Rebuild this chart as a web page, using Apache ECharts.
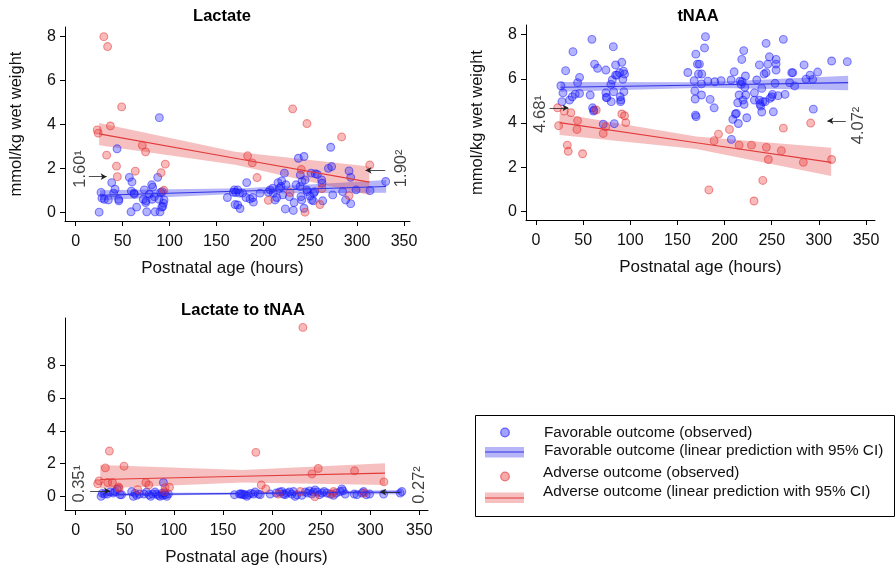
<!DOCTYPE html>
<html>
<head>
<meta charset="utf-8">
<script src="https://cdn.jsdelivr.net/npm/echarts@6/dist/echarts.min.js"></script>
<style>html,body{margin:0;padding:0;background:#fff}#c{width:896px;height:567px}</style>
</head>
<body>
<div id="c"></div>
<script>
// ---------------- DATA ----------------
const xTicks = [0, 50, 100, 150, 200, 250, 300, 350];
const yTicks = [0, 2, 4, 6, 8];
const panelTitles = ['Lactate', 'tNAA', 'Lactate to tNAA'];
const xAxisTitle = 'Postnatal age (hours)';
const yAxisTitle = 'mmol/kg wet weight';
const legendLabels = [
  'Favorable outcome (observed)',
  'Favorable outcome (linear prediction with 95% CI)',
  'Adverse outcome (observed)',
  'Adverse outcome (linear prediction with 95% CI)'
];

// Lactate: [postnatal age (h), mmol/kg]
const lactateFavorable = [
  [25,0.0],[27,0.9],[28,0.64],[30.6,0.59],[34.8,0.56],[38.4,1.35],[40.5,0.87],[41.9,1.05],[44.1,2.89],[45.8,0.59],
  [46,0.52],[57.2,1.59],[59,0.02],[60,1.38],[59.3,0.96],[62.2,0.87],[62.5,0.82],[65,0.23],[72.1,0.59],[73.2,1.02],
  [74.6,0.44],[75.7,0.02],[75,0.52],[78.5,0.82],[81,1.25],[82.1,1.14],[81.4,0.59],[83.9,0.71],[84.6,0.02],[87.4,1.59],
  [88.8,0.59],[89.9,0.02],[89.2,4.31],[90.6,0.9],[91.7,0.23],[92.8,0.26],[93.5,0.41],[94.2,0.56],[92.4,0.94],
  [161.7,0.67],[168.1,0.91],[169.1,1.02],[169.9,0.35],[170.6,0.9],[172.7,1.02],[172.7,0.33],[174.5,0.87],[175.2,0.17],
  [178,0.87],[181.6,0.67],[182.3,1.35],[185.9,0.61],[188.7,0.67],[189.4,0.46],
  [196.5,0.87],[205.4,0.91],[207.2,1.02],[210,1.09],[210.7,0.87],[212.5,0.56],[214.3,0.67],[215.7,1.35],[217.1,1.09],
  [218.9,1.17],[219.6,1.43],[220.7,0.79],[222.5,1.78],[223.5,0.15],[224.2,1.25],[227.8,0.71],[232,0.08],[232.8,0.44],
  [234.9,1.25],[237.4,2.46],[243.4,2.54],[239.2,1.17],[239.5,1.7],[240.2,0.71],[241.3,1.4],[241,0.56],[243.4,0.18],
  [244.5,1.47],[246.3,1.02],[247,0.94],[249.8,0.74],[250.9,1.78],[251.6,0.56],[253.4,0.52],[253.7,0.87],[254.8,0.94],
  [255.5,1.75],[257.6,1.72],[262.3,1.47],[262.6,1.32],[263.3,0.52],[269.4,2.0],[271.9,2.96],[272.9,2.08],[274,0.79],
  [284.6,0.94],[287.8,0.56],[291.4,1.88],[293.2,1.59],[293.2,0.39],[298.9,1.02],[313.8,0.99],[330.5,1.4]
];
const lactateAdverse = [
  [30,8.0],[34,7.55],[49,4.8],[37,3.93],[23,3.75],[24,3.6],[71,3.05],[74.5,2.75],[33,2.6],[43.5,2.1],
  [63.5,1.87],[44.4,1.62],[95.5,2.19],[91,1.8],[94,1.0],[183.3,2.57],[188.3,2.25],[193.3,1.58],[231.3,4.71],
  [246.5,4.04],[283.5,3.43],[313.5,2.15],[240.5,1.95],[205.4,0.54],[228.5,0.9],[244.5,0.0],[260.4,0.35],
  [262.5,1.08],[291.4,0.76]
];
// linear predictions: x, fit, lower, upper
const lactateFavFitX = [26, 180, 331];
const lactateFavFit  = [0.77, 0.97, 1.17];
const lactateFavLo   = [0.55, 0.85, 0.89];
const lactateFavHi   = [1.0, 1.09, 1.47];
const lactateAdvFitX = [25, 170, 313];
const lactateAdvFit  = [3.57, 2.46, 1.37];
const lactateAdvLo   = [3.05, 2.16, 0.79];
const lactateAdvHi   = [4.07, 2.76, 2.08];

// tNAA
const tnaaFavorable = [
  [26.4,5.69],[27.5,4.97],[28.6,5.37],[31.4,6.37],[35.6,5.04],[38.4,5.19],[39.2,7.23],[41.6,5.31],[44.1,5.83],[46.2,6.07],
  [46.2,5.34],[57.5,5.27],[59.3,7.79],[60,4.69],[61,4.54],[62.1,6.67],[65.3,6.48],[61.5,4.59],[74.1,6.4],[74.1,5.37],
  [74.5,5.16],[75.2,5.15],[71.3,3.95],[79.4,5.75],[79.8,4.97],[80.9,5.95],[82,7.46],[82.3,5.42],[83,3.97],[84.4,6.63],
  [84.4,6.17],[85.8,6.17],[88.6,6.28],[89.3,5.19],[90,5.04],[89.7,4.97],[91,6.75],[92.1,5.98],[92.8,6.35],[93.9,6.22],[93.2,5.42],
  [161,6.29],[167.7,5.92],[168.4,5.46],[168.8,5.09],[169.5,7.12],[169.1,4.36],[169.8,4.29],[171.2,6.67],[173.3,6.67],
  [172.3,6.22],[175.8,6.22],[175.5,5.77],[175.5,5.27],[178.7,7.4],[179.7,7.91],[182.2,5.9],[184.7,5.07],[188.9,4.69],[189.6,5.87],
  [196.3,5.92],[207.2,3.26],[206.9,5.95],[208.7,4.17],[210.1,6.32],[211.5,4.41],[212.5,4.44],[213.9,4.92],[214.6,3.98],
  [215.4,5.27],[216.4,5.9],[217.5,5.75],[218.2,6.88],[218.6,5.87],[219.6,5.04],[220.3,7.28],[220.7,4.85],[221.4,5.62],
  [222.1,6.13],[222.4,5.27],[223.5,4.24],[231.6,5.04],[231.6,5.37],[234.1,5.95],[236.9,6.63],[236.9,5.04],[237.6,4.86],
  [238.3,4.77],[239.4,4.5],[239.4,5.57],[240.5,4.97],[241.9,6.22],[243,4.97],[244,6.28],[244,7.61],[245.8,6.67],[247.5,7.0],
  [248.2,5.12],[250,5.19],[250.7,5.3],[251.7,4.51],[253.5,5.8],[254.6,6.88],[254.6,6.67],[254.6,6.4],[256.7,5.24],
  [262.3,7.79],[264.1,5.3],[269,5.83],[271.2,6.28],[272.3,6.28],[274.3,5.68],[284.3,6.63],[286.4,5.99],[290.6,6.17],
  [293.4,5.98],[294.1,4.63],[298.7,6.31],[313.5,6.81],[330.1,6.78]
];
const tnaaAdverse = [
  [22.9,4.69],[24,3.88],[30,4.54],[37,4.47],[33.2,3.0],[34.2,2.72],[44.1,4.11],[43.4,3.71],[49.4,2.61],[63.9,4.59],
  [71.3,3.53],[74.1,3.83],[91,4.41],[93.9,4.33],[95.3,4.02],[183.3,0.97],[188.9,3.2],[193.5,3.5],[205.2,3.71],
  [215.4,3.0],[228.5,3.0],[231.2,0.47],[240.5,1.4],[244.3,2.9],[246.4,2.35],[260.2,2.75],[262.3,3.77],[283.5,2.22],
  [291.3,4.0],[313.5,2.35]
];
const tnaaFavFitX = [26, 180, 331];
const tnaaFavFit  = [5.62, 5.72, 5.83];
const tnaaFavLo   = [5.42, 5.6, 5.48];
const tnaaFavHi   = [5.86, 5.85, 6.14];
const tnaaAdvFitX = [25, 170, 313];
const tnaaAdvFit  = [4.02, 3.11, 2.22];
const tnaaAdvLo   = [3.46, 2.83, 1.6];
const tnaaAdvHi   = [4.43, 3.39, 2.88];

// Lactate to tNAA ratio
const ratioFavorable = [
  [25.8,0.02],[27.1,0.2],[29.2,0.16],[32.2,0.16],[34.9,0.28],[38.3,0.22],[40.1,0.31],[42.4,0.45],[45.1,0.12],[46.8,0.12],
  [57,0.31],[58.7,0.02],[60.4,0.2],[62.1,0.08],[64.9,0.16],[69.6,0.16],[72.3,0.28],[74.7,0.12],[76.4,0.02],[78.4,0.16],
  [80.8,0.28],[82.5,0.16],[84.2,0.08],[85.9,0.02],[87.6,0.2],[88.6,0.08],[89.3,0.86],[90.3,0.22],[91.4,0.12],[92.7,0.02],[94.4,0.16],
  [161.7,0.12],[166.8,0.16],[168.1,0.16],[169.5,0.16],[170.9,0.12],[172.6,0.12],[174.3,0.02],[175.9,0.12],[178.3,0.2],
  [181,0.16],[182.7,0.28],[186.1,0.16],[187.9,0.12],
  [198,0.16],[204.2,0.22],[207.6,0.28],[210,0.31],[211.7,0.16],[213.4,0.12],[215,0.22],[217.7,0.28],[220.1,0.16],
  [221.8,0.31],[223.5,0.02],[225.3,0.12],[230.3,0.08],[233.8,0.28],[236.1,0.22],[238.1,0.35],[240.5,0.16],[242.1,0.28],
  [243.8,0.41],[246.2,0.28],[248.3,0.12],[250.7,0.22],[253,0.31],[255.8,0.22],[259.2,0.16],[262.6,0.08],[265.3,0.22],
  [269.4,0.31],[271.1,0.47],[272.1,0.35],[274.5,0.16],[283.7,0.16],[286.4,0.12],[291.5,0.22],[293.2,0.31],[295.9,0.12],
  [299.3,0.16],[313.6,0.16],[330.5,0.22],[332.2,0.31]
];
const ratioAdverse = [
  [231.4,10.28],[34.3,2.77],[30.2,1.75],[49.2,1.85],[183.5,2.69],[247,1.71],[240.6,1.38],[284,1.57],[313.9,0.9],
  [23.8,0.96],[22.4,0.79],[32.6,0.86],[37.4,0.86],[71.4,0.86],[74.4,0.71],[43.5,0.59],[63.2,0.43],[91,0.55],[95.5,0.57],
  [189,0.71],[193.7,0.47],[206.6,0.16],[228.7,0.31],[243.6,0.0],[261,0.16],[262.6,0.31],[293.9,0.22],[44.2,0.51],[90.3,0.31]
];
const ratioFavFitX = [26, 180, 332];
const ratioFavFit  = [0.12, 0.2, 0.28];
const ratioFavLo   = [0.02, 0.14, 0.15];
const ratioFavHi   = [0.22, 0.26, 0.4];
const ratioAdvFitX = [25, 170, 315];
const ratioAdvFit  = [1.04, 1.24, 1.43];
const ratioAdvLo   = [0.5, 0.86, 0.71];
const ratioAdvHi   = [1.92, 1.62, 2.03];

// reference values marked with arrows
const refLabels = [['1.60\u00b9', '1.90\u00b2'], ['4.68\u00b9', '4.07\u00b2'], ['0.35\u00b9', '0.27\u00b2']];
const refValues = [[1.62, 1.91], [4.69, 4.10], [0.35, 0.28]];

// ---------------- STYLE / LAYOUT ----------------
const FONT = '"Liberation Sans", Arial, Helvetica, sans-serif';
const BLUE_PT = 'rgba(30,30,255,0.42)', BLUE_PT_B = 'rgba(20,20,255,0.62)';
const RED_PT = 'rgba(235,50,50,0.42)', RED_PT_B = 'rgba(225,40,40,0.6)';
const BLUE_BAND = 'rgba(60,60,235,0.38)', RED_BAND = 'rgba(230,80,80,0.36)';
const BLUE_LINE = '#3434e8', RED_LINE = '#e23a3a';

const grids = [
  {left: 65, top: 27, width: 345, height: 194},
  {left: 526, top: 25, width: 349, height: 195},
  {left: 65, top: 318, width: 363, height: 198}
];
const xRanges = [[-11.4, 356.4], [-10.6, 359.5], [-10.9, 358.8]];
const yRanges = [[-0.40, 8.44], [-0.39, 8.44], [-0.81, 10.85]];
// annotation geometry in data units: [textX, textY, arrowFrom, arrowTo]
const refGeom = [
  [[5.6, 1.97, 14, 33], [347.5, 2.0, 330, 309]],
  [[4.2, 4.41, 14.4, 34.5], [341.5, 3.89, 328.5, 309]],
  [[3.4, 0.78, 14.6, 35], [350, 0.71, 330.6, 310]]
];

const axisLineStyle = {lineStyle: {color: '#000', width: 1}};
const axisTickStyle = {show: true, length: 5, lineStyle: {color: '#000', width: 1}};

function xAxisFor(i) {
  return {
    gridIndex: i, type: 'value', min: xRanges[i][0], max: xRanges[i][1],
    axisLine: Object.assign({onZero: false}, axisLineStyle),
    axisTick: Object.assign({customValues: xTicks}, axisTickStyle),
    axisLabel: {customValues: xTicks, margin: 13, fontFamily: FONT, fontSize: 16, color: '#111'},
    splitLine: {show: false},
    name: xAxisTitle, nameLocation: 'middle', nameGap: 39,
    nameTextStyle: {fontFamily: FONT, fontSize: 17, color: '#111', padding: i === 0 ? [0, 30, 0, 0] : 0}
  };
}
function yAxisFor(i) {
  return {
    gridIndex: i, type: 'value', min: yRanges[i][0], max: yRanges[i][1],
    axisLine: Object.assign({onZero: false}, axisLineStyle),
    axisTick: Object.assign({customValues: yTicks}, axisTickStyle),
    axisLabel: {customValues: yTicks, margin: 9, fontFamily: FONT, fontSize: 16, color: '#111'},
    splitLine: {show: false},
    name: i < 2 ? yAxisTitle : '', nameLocation: 'middle', nameGap: 40,
    nameTextStyle: {fontFamily: FONT, fontSize: 16.5, color: '#111'}
  };
}

function band(i, xs, lo, hi, color) {
  return {
    type: 'custom', xAxisIndex: i, yAxisIndex: i, silent: true, z: 1, data: [0],
    renderItem: function (params, api) {
      const pts = [];
      for (let k = 0; k < xs.length; k++) pts.push(api.coord([xs[k], hi[k]]));
      for (let k = xs.length - 1; k >= 0; k--) pts.push(api.coord([xs[k], lo[k]]));
      return {type: 'polygon', shape: {points: pts}, style: {fill: color}};
    }
  };
}
function points(i, data, fill, stroke) {
  return {
    type: 'scatter', xAxisIndex: i, yAxisIndex: i, data: data, symbol: 'circle', symbolSize: 7.8, z: 2,
    itemStyle: {color: fill, borderColor: stroke, borderWidth: 1.1}, silent: true
  };
}
function fitLine(i, xs, ys, color) {
  return {
    type: 'line', xAxisIndex: i, yAxisIndex: i, data: xs.map((x, k) => [x, ys[k]]),
    showSymbol: false, symbol: 'none', z: 3, silent: true,
    lineStyle: {color: color, width: 1.1}
  };
}
function refSeries(i) {
  const g = refGeom[i];
  return {
    type: 'scatter', xAxisIndex: i, yAxisIndex: i, symbolSize: 0, clip: false, z: 4, silent: true,
    data: [[g[0][0], g[0][1]], [g[1][0], g[1][1]]],
    label: {show: true, position: 'inside', rotate: 90, fontFamily: FONT, fontSize: 16.5, color: '#111',
      formatter: p => refLabels[i][p.dataIndex]},
    markLine: {
      silent: true, animation: false, symbol: ['none', 'arrow'], symbolSize: [5, 6],
      label: {show: false},
      lineStyle: {color: '#222', width: 0.8, type: 'solid'},
      data: [
        [{coord: [g[0][2], refValues[i][0]]}, {coord: [g[0][3], refValues[i][0]]}],
        [{coord: [g[1][2], refValues[i][1]]}, {coord: [g[1][3], refValues[i][1]]}]
      ]
    }
  };
}

const panels = [
  [lactateFavorable, lactateAdverse, lactateFavFitX, lactateFavFit, lactateFavLo, lactateFavHi, lactateAdvFitX, lactateAdvFit, lactateAdvLo, lactateAdvHi],
  [tnaaFavorable, tnaaAdverse, tnaaFavFitX, tnaaFavFit, tnaaFavLo, tnaaFavHi, tnaaAdvFitX, tnaaAdvFit, tnaaAdvLo, tnaaAdvHi],
  [ratioFavorable, ratioAdverse, ratioFavFitX, ratioFavFit, ratioFavLo, ratioFavHi, ratioAdvFitX, ratioAdvFit, ratioAdvLo, ratioAdvHi]
];

const series = [];
panels.forEach((p, i) => {
  series.push(band(i, p[2], p[4], p[5], BLUE_BAND));
  series.push(band(i, p[6], p[8], p[9], RED_BAND));
  series.push(points(i, p[0], BLUE_PT, BLUE_PT_B));
  series.push(points(i, p[1], RED_PT, RED_PT_B));
  series.push(fitLine(i, p[2], p[3], BLUE_LINE));
  series.push(fitLine(i, p[6], p[7], RED_LINE));
  series.push(refSeries(i));
});

const titlePos = [[222, 16], [698, 16], [243, 310]];
const graphic = titlePos.map((t, i) => ({
  type: 'text', x: t[0], y: t[1], silent: true,
  style: {text: panelTitles[i], font: 'bold 16.5px ' + FONT, fill: '#000', textAlign: 'center', textVerticalAlign: 'middle'}
}));
// legend box
graphic.push({type: 'rect', silent: true, shape: {x: 475.5, y: 415.5, width: 419, height: 101},
  style: {fill: '#fff', stroke: '#000', lineWidth: 1}});
graphic.push({type: 'circle', silent: true, shape: {cx: 505, cy: 432.5, r: 4.3},
  style: {fill: BLUE_PT, stroke: BLUE_PT_B, lineWidth: 1.2}});
graphic.push({type: 'rect', silent: true, shape: {x: 485, y: 447, width: 39, height: 10.5}, style: {fill: BLUE_BAND}});
graphic.push({type: 'line', silent: true, shape: {x1: 485, y1: 452, x2: 524, y2: 452}, style: {stroke: BLUE_LINE, lineWidth: 1.2}});
graphic.push({type: 'circle', silent: true, shape: {cx: 505, cy: 476.5, r: 4.3},
  style: {fill: RED_PT, stroke: RED_PT_B, lineWidth: 1.2}});
graphic.push({type: 'rect', silent: true, shape: {x: 485, y: 492.5, width: 39, height: 10.5}, style: {fill: RED_BAND}});
graphic.push({type: 'line', silent: true, shape: {x1: 485, y1: 498, x2: 524, y2: 498}, style: {stroke: RED_LINE, lineWidth: 1.2}});
const legendY = [432.7, 450.7, 473, 491.7];
const legendX = [544, 544, 543, 543];
legendLabels.forEach((t, k) => graphic.push({
  type: 'text', x: legendX[k], y: legendY[k], silent: true,
  style: {text: t, font: '15.3px ' + FONT, fill: '#111', textAlign: 'left', textVerticalAlign: 'middle'}
}));

const chart = echarts.init(document.getElementById('c'), null, {renderer: 'canvas'});
chart.setOption({
  animation: false,
  backgroundColor: '#fff',
  grid: grids,
  xAxis: [0, 1, 2].map(xAxisFor),
  yAxis: [0, 1, 2].map(yAxisFor),
  series: series,
  graphic: graphic
});
</script>
</body>
</html>
